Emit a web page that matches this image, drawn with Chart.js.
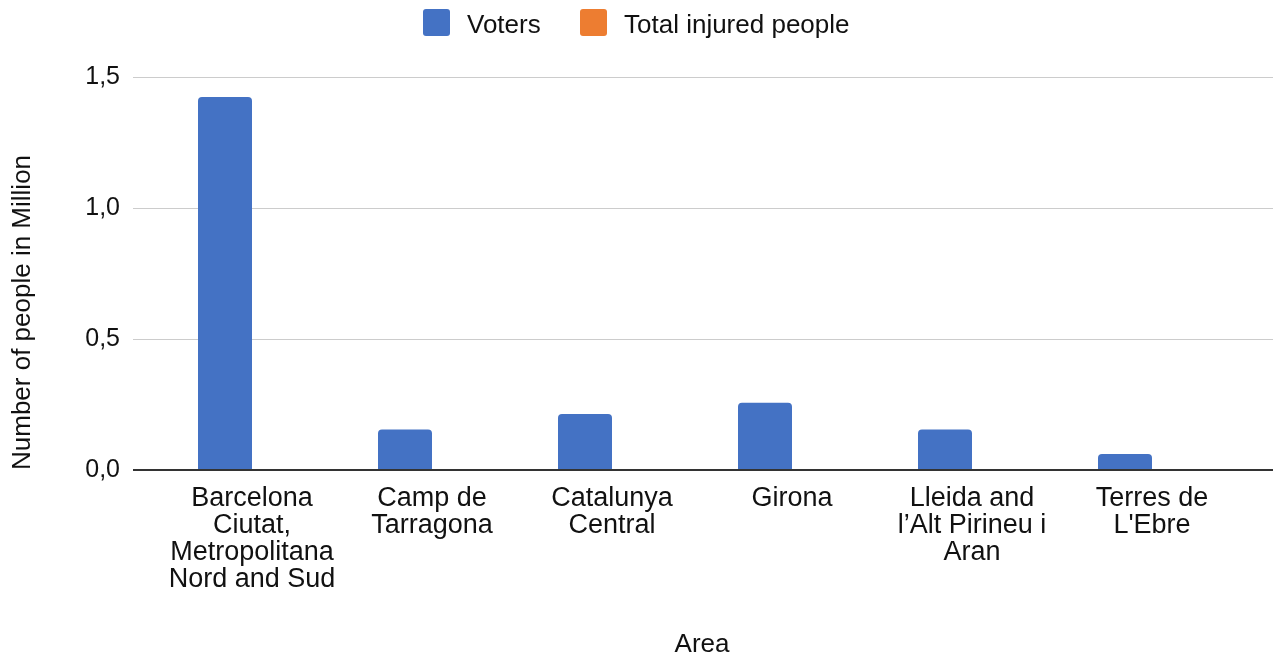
<!DOCTYPE html>
<html>
<head>
<meta charset="utf-8">
<script src="https://cdn.jsdelivr.net/npm/chart.js@4.4.1/dist/chart.umd.min.js"></script>
<style>
  html, body { margin: 0; padding: 0; background: #fff; }
  #wrap { position: relative; width: 1273px; height: 658px; }
  canvas { display: block; }
</style>
</head>
<body>
<div id="wrap"><canvas id="c" width="1273" height="658"></canvas></div>
<script>
const categories = [
  ['Barcelona', 'Ciutat,', 'Metropolitana', 'Nord and Sud'],
  ['Camp de', 'Tarragona'],
  ['Catalunya', 'Central'],
  ['Girona'],
  ['Lleida and', 'l’Alt Pirineu i', 'Aran'],
  ['Terres de', "L'Ebre"]
];
const seriesNames = ['Voters', 'Total injured people'];
const voters = [1.424, 0.155, 0.214, 0.257, 0.155, 0.061];
const injured = [0.0005, 0.0001, 0.0001, 0.0001, 0.0001, 0.00003];
const yTicks = [0, 0.5, 1.0, 1.5];
const yAxisTitle = 'Number of people in Million';
const xAxisTitle = 'Area';

const FONT = "'Liberation Sans', Arial, Helvetica, sans-serif";
const TEXT = '#111111';
const COLORS = ['#4472C4', '#ED7D31'];

const gridPlugin = {
  id: 'customGrid',
  beforeDatasetsDraw(chart) {
    const ctx = chart.ctx, y = chart.scales.y;
    const x0 = chart.chartArea.left - 29, x1 = chart.width;
    ctx.save();
    ctx.strokeStyle = '#cccccc';
    ctx.lineWidth = 1;
    y.ticks.forEach(t => {
      if (t.value === 0) return;
      const py = Math.round(y.getPixelForValue(t.value)) + 0.5;
      ctx.beginPath(); ctx.moveTo(x0, py); ctx.lineTo(x1, py); ctx.stroke();
    });
    ctx.restore();
  },
  afterDatasetsDraw(chart) {
    const ctx = chart.ctx, y = chart.scales.y;
    const x0 = chart.chartArea.left - 29, x1 = chart.width;
    const py = Math.round(y.getPixelForValue(0));
    ctx.save();
    ctx.strokeStyle = '#333333';
    ctx.lineWidth = 2;
    ctx.beginPath(); ctx.moveTo(x0, py); ctx.lineTo(x1, py); ctx.stroke();
    ctx.restore();
  }
};

const legendPlugin = {
  id: 'customLegend',
  afterDraw(chart) {
    const ctx = chart.ctx;
    const starts = [423, 580];
    ctx.save();
    ctx.font = '26px ' + FONT;
    ctx.textBaseline = 'alphabetic';
    ctx.textAlign = 'left';
    chart.data.datasets.forEach((ds, i) => {
      const x = starts[i];
      ctx.fillStyle = ds.backgroundColor;
      ctx.beginPath();
      ctx.roundRect(x, 9, 27, 27, 3);
      ctx.fill();
      ctx.fillStyle = TEXT;
      ctx.fillText(ds.label, x + 44, 33);
    });
    ctx.restore();
  }
};

new Chart(document.getElementById('c'), {
  type: 'bar',
  data: {
    labels: categories,
    datasets: [
      { label: seriesNames[0], data: voters, backgroundColor: COLORS[0], borderRadius: 4, borderSkipped: 'start' },
      { label: seriesNames[1], data: injured, backgroundColor: COLORS[1], borderRadius: 4, borderSkipped: 'start' }
    ]
  },
  options: {
    responsive: false,
    animation: false,
    devicePixelRatio: 1,
    layout: { padding: { top: 77, right: 31, bottom: 0, left: 0 } },
    datasets: { bar: { categoryPercentage: 0.6, barPercentage: 1.0 } },
    plugins: {
      legend: { display: false },
      tooltip: { enabled: false }
    },
    scales: {
      x: {
        grid: { display: false, drawTicks: false },
        border: { display: false },
        ticks: {
          autoSkip: false, maxRotation: 0, minRotation: 0,
          padding: 15, color: TEXT,
          font: { family: FONT, size: 27, lineHeight: 1.0 }
        },
        title: {
          display: true, text: xAxisTitle, color: TEXT,
          font: { family: FONT, size: 26, lineHeight: 1.0 },
          padding: { top: 0, bottom: 0 }
        },
        afterFit(s) { s.height = 188; }
      },
      y: {
        min: 0, max: 1.5,
        grid: { display: false, drawTicks: false },
        border: { display: false },
        afterBuildTicks(s) { s.ticks = yTicks.map(v => ({ value: v })); },
        ticks: {
          padding: 42, color: TEXT,
          font: { family: FONT, size: 25 },
          callback: v => Number(v).toFixed(1).replace('.', ',')
        },
        title: {
          display: true, text: yAxisTitle, color: TEXT, align: 'start',
          font: { family: FONT, size: 26, lineHeight: 1.2 },
          padding: { top: 7, bottom: 0 }
        },
        afterFit(s) { s.width = 162; }
      }
    }
  },
  plugins: [gridPlugin, legendPlugin]
});
</script>
</body>
</html>
